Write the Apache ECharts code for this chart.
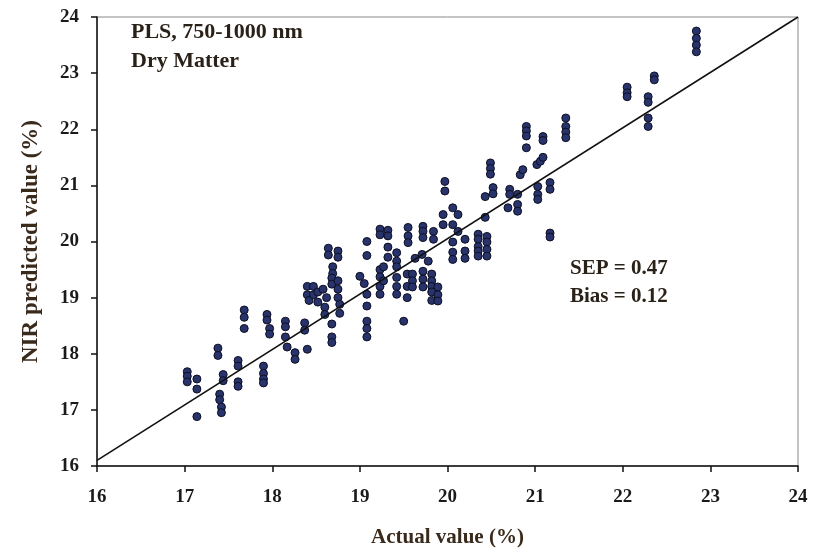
<!DOCTYPE html>
<html>
<head>
<meta charset="utf-8">
<script src="https://cdn.jsdelivr.net/npm/echarts@6/dist/echarts.min.js"></script>
<style>html,body{margin:0;padding:0;background:#fff;}#c{width:820px;height:553px;}</style>
</head>
<body>
<div id="c"></div>
<script>
// Actual (x) and NIR predicted (y) values
var actual = [
17.03,17.03,17.03,17.14,17.14,17.14,
17.38,17.38,17.40,17.40,17.42,17.42,17.44,17.44,
17.61,17.61,17.61,17.61,17.68,17.68,17.68,
17.90,17.90,17.90,17.90,17.94,17.94,17.97,17.97,
18.15,18.15,18.15,18.17,18.26,18.26,18.37,18.37,18.40,
18.40,18.40,18.42,18.47,18.47,18.52,18.52,18.60,18.60,18.64,18.64,18.75,18.75,18.69,18.69,18.68,18.68,18.75,18.75,18.75,18.77,18.77,18.68,18.68,18.68,18.58,18.62,
19.08,19.08,19.08,19.08,19.08,19.00,19.08,19.08,19.05,
19.23,19.23,19.32,19.32,19.32,19.32,19.55,19.55,19.55,19.23,19.23,19.23,19.23,19.42,19.42,19.42,19.27,19.27,19.42,19.42,19.42,19.54,19.54,19.54,19.50,19.60,19.60,19.60,19.63,
19.72,19.72,19.72,19.84,19.84,19.71,19.78,19.72,19.72,19.72,19.82,19.82,19.82,19.82,19.82,19.89,19.89,19.89,
19.97,19.97,20.06,20.06,19.95,19.95,20.12,20.12,20.06,20.06,20.06,20.20,20.20,20.20,20.35,20.35,20.35,20.35,20.35,20.45,20.45,20.45,20.45,20.43,20.43,20.49,20.49,20.49,20.52,20.52,
20.71,20.71,20.69,20.80,20.80,20.80,20.83,20.86,20.90,20.90,20.90,20.90,
21.02,21.06,21.09,21.09,21.09,21.03,21.03,21.03,21.17,21.17,21.17,21.17,21.35,21.35,21.35,21.35,
22.05,22.05,22.05,22.29,22.29,22.29,22.29,22.36,22.36,22.84,22.84,22.84,22.84
];
var predicted = [
17.68,17.60,17.50,17.55,17.37,16.88,
18.10,17.97,17.28,17.18,17.05,16.95,17.63,17.52,
17.88,17.78,17.50,17.42,18.78,18.65,18.45,
17.78,17.65,17.55,17.48,18.70,18.60,18.45,18.35,
18.58,18.48,18.30,18.12,18.02,17.90,18.55,18.42,18.08,
19.20,19.05,18.95,19.20,19.05,19.10,18.92,18.83,18.70,19.88,19.76,19.83,19.72,19.55,19.43,19.35,19.24,19.30,19.15,19.00,18.88,18.72,18.53,18.30,18.20,19.15,19.00,
18.58,18.45,18.30,20.00,19.75,19.38,19.06,18.85,19.25,
20.22,20.12,20.20,20.10,19.90,19.72,20.25,20.10,19.98,19.50,19.37,19.20,19.06,19.80,19.65,19.55,19.55,19.30,19.36,19.20,19.06,19.42,19.20,19.00,18.58,19.42,19.30,19.19,19.70,
20.27,20.18,20.07,20.18,20.04,19.77,19.65,19.47,19.33,19.19,19.42,19.30,19.20,19.10,18.95,19.19,19.05,18.94,
21.07,20.90,20.60,20.30,20.48,20.30,20.48,20.18,19.99,19.81,19.68,20.04,19.83,19.70,20.13,20.04,19.91,19.83,19.74,20.09,19.99,19.86,19.74,20.43,20.80,21.40,21.30,21.20,20.96,20.85,
20.93,20.84,20.60,20.84,20.66,20.54,21.19,21.28,22.05,21.97,21.88,21.67,
21.37,21.43,21.87,21.80,21.50,20.98,20.84,20.75,21.05,20.93,20.15,20.08,22.20,22.05,21.95,21.85,
22.75,22.65,22.58,22.58,22.48,22.20,22.05,22.95,22.88,23.75,23.62,23.50,23.38
];
// Regression line end points
var lineX = [16, 24];
var lineY = [16.1, 24];
var xTicks = [16,17,18,19,20,21,22,23,24];
var yTicks = [16,17,18,19,20,21,22,23,24];
var annot = ["PLS, 750-1000 nm", "Dry Matter"];
var stats = ["SEP = 0.47", "Bias = 0.12"];

var pts = actual.map(function(v,i){return [v, predicted[i]];});
var linePts = lineX.map(function(v,i){return [v, lineY[i]];});

var serif = '"Liberation Serif","Times New Roman",serif';
var brown = '#3a2a1c';
var chart = echarts.init(document.getElementById('c'), null, {renderer:'canvas'});
chart.setOption({
  animation:false,
  backgroundColor:'#fff',
  grid:{left:97,right:22,top:17,bottom:86,show:true,borderColor:'#8a8a8a',borderWidth:1,backgroundColor:'transparent'},
  xAxis:{
    type:'value',min:xTicks[0],max:xTicks[xTicks.length-1],interval:1,
    name:'Actual value (%)',nameLocation:'middle',nameGap:61,
    nameTextStyle:{fontFamily:serif,fontWeight:'bold',fontSize:21,color:brown},
    axisLine:{show:true,lineStyle:{color:'#111',width:1.5}},
    axisTick:{show:true,length:6,lineStyle:{color:'#111',width:1.5}},
    axisLabel:{fontFamily:serif,fontWeight:'bold',fontSize:19,color:'#1a1a1a',margin:22},
    splitLine:{show:false}
  },
  yAxis:{
    type:'value',min:yTicks[0],max:yTicks[yTicks.length-1],interval:1,
    name:'NIR predicted value (%)',nameLocation:'middle',nameGap:54,
    nameTextStyle:{fontFamily:serif,fontWeight:'bold',fontSize:23,color:brown},
    axisLine:{show:true,lineStyle:{color:'#111',width:1.5}},
    axisTick:{show:true,length:6,lineStyle:{color:'#111',width:1.5}},
    axisLabel:{fontFamily:serif,fontWeight:'bold',fontSize:19,color:'#1a1a1a',margin:18},
    splitLine:{show:false}
  },
  graphic:[
    {type:'text',left:131,top:21,style:{text:annot[0],font:'bold 22px '+serif,fill:'#2a2218'}},
    {type:'text',left:131,top:50,style:{text:annot[1],font:'bold 22px '+serif,fill:'#2a2218'}},
    {type:'text',left:570,top:258,style:{text:stats[0],font:'bold 21px '+serif,fill:'#2a2218'}},
    {type:'text',left:570,top:286,style:{text:stats[1],font:'bold 21px '+serif,fill:'#2a2218'}}
  ],
  series:[
    {type:'line',data:linePts,symbol:'none',lineStyle:{color:'#111',width:1.6},z:3},
    {type:'scatter',data:pts,symbol:'circle',symbolSize:8,
     itemStyle:{color:'#27336a',borderColor:'#0d0f22',borderWidth:1,opacity:1},z:2}
  ]
});
</script>
</body>
</html>
